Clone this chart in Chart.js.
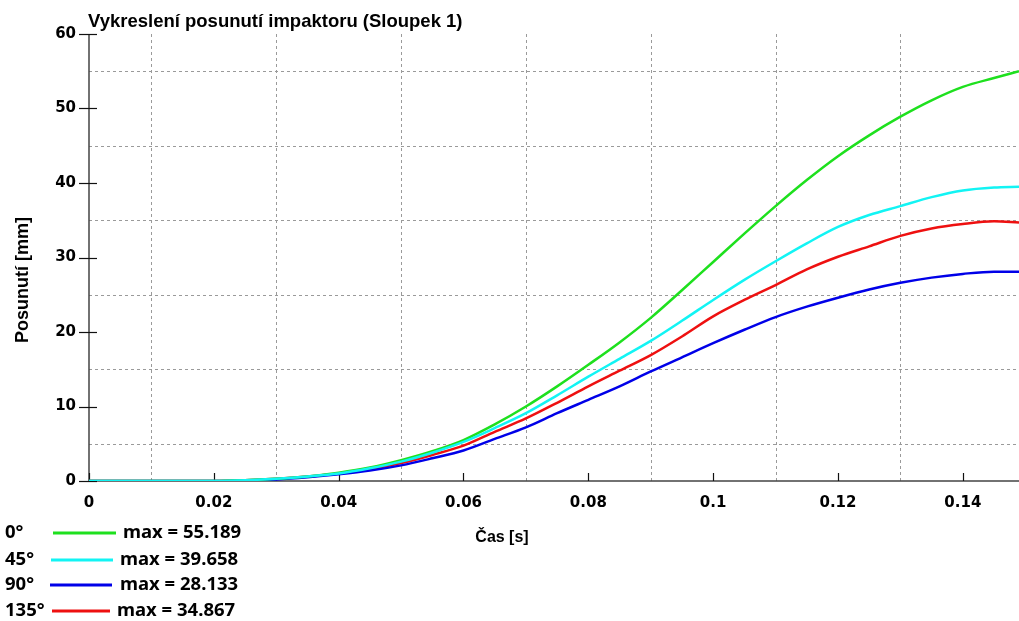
<!DOCTYPE html>
<html>
<head>
<meta charset="utf-8">
<script src="https://cdn.jsdelivr.net/npm/chart.js@4.4.1/dist/chart.umd.min.js"></script>
<style>
  html, body { margin: 0; padding: 0; background: #fff; }
  #wrap { width: 1019px; height: 621px; }
</style>
</head>
<body>
<div id="wrap"><canvas id="chart" width="1019" height="621"></canvas></div>
<script>
// time [s]
const times = [0, 0.005, 0.01, 0.015, 0.02, 0.025, 0.03, 0.035, 0.04, 0.045, 0.05, 0.055, 0.06, 0.065, 0.07,
  0.075, 0.08, 0.085, 0.09, 0.095, 0.1, 0.105, 0.11, 0.115, 0.12, 0.125, 0.13, 0.135, 0.14, 0.145, 0.149];

// displacement [mm]
const deg0 = [0, 0, 0, 0, 0, 0.1, 0.3, 0.6, 1.1, 1.8, 2.8, 4.0, 5.5, 7.6, 10.0,
  12.7, 15.6, 18.6, 21.9, 25.6, 29.4, 33.2, 36.9, 40.4, 43.6, 46.4, 48.9, 51.1, 52.9, 54.1, 55.0];
const deg45 = [0, 0, 0, 0, 0, 0.1, 0.3, 0.6, 1.0, 1.7, 2.6, 3.8, 5.25, 7.1, 9.1,
  11.5, 14.0, 16.4, 18.8, 21.5, 24.3, 27.0, 29.5, 31.9, 34.1, 35.7, 36.9, 38.1, 39.0, 39.4, 39.5];
const deg90 = [0, 0, 0, 0, 0, 0.05, 0.2, 0.5, 0.9, 1.4, 2.1, 3.05, 4.1, 5.65, 7.2,
  9.1, 10.9, 12.7, 14.7, 16.6, 18.5, 20.3, 22.0, 23.4, 24.6, 25.7, 26.6, 27.3, 27.8, 28.1, 28.1];
const deg135 = [0, 0, 0, 0, 0, 0.1, 0.3, 0.6, 1.0, 1.6, 2.4, 3.5, 4.75, 6.6, 8.4,
  10.5, 12.7, 14.8, 16.9, 19.4, 22.1, 24.3, 26.3, 28.4, 30.1, 31.5, 32.9, 33.9, 34.5, 34.85, 34.7];

const seriesNames = ['0°', '45°', '90°', '135°'];
const seriesMax = ['max = 55.189', 'max = 39.658', 'max = 28.133', 'max = 34.867'];
const seriesColors = ['#1ee01e', '#12f4f4', '#0000e8', '#ee1010'];

const xTicks = [0, 0.02, 0.04, 0.06, 0.08, 0.1, 0.12, 0.14];
const xGrid = [0.01, 0.03, 0.05, 0.07, 0.09, 0.11, 0.13];
const yGrid = [5, 15, 25, 35, 45, 55];

const chartTitle = 'Vykreslení posunutí impaktoru (Sloupek 1)';
const xTitle = 'Čas [s]';
const yTitle = 'Posunutí [mm]';

const toPoints = arr => arr.map((v, i) => ({x: times[i], y: v}));

const decor = {
  id: 'decor',
  beforeDatasetsDraw(chart) {
    const {ctx, chartArea: a, scales: {x, y}} = chart;
    ctx.save();
    // dashed grid between the ticks
    ctx.strokeStyle = '#9a9a9a';
    ctx.lineWidth = 1;
    ctx.setLineDash([3, 3]);
    xGrid.forEach(v => {
      const px = Math.round(x.getPixelForValue(v)) + 0.5;
      ctx.beginPath(); ctx.moveTo(px, a.top); ctx.lineTo(px, a.bottom); ctx.stroke();
    });
    yGrid.forEach(v => {
      const py = Math.round(y.getPixelForValue(v)) + 0.5;
      ctx.beginPath(); ctx.moveTo(a.left, py); ctx.lineTo(a.right, py); ctx.stroke();
    });
    ctx.setLineDash([]);
    // axes
    ctx.strokeStyle = '#444';
    ctx.lineWidth = 1.5;
    ctx.beginPath();
    ctx.moveTo(a.left, a.top); ctx.lineTo(a.left, a.bottom); ctx.lineTo(a.right, a.bottom);
    ctx.stroke();
    // tick marks
    ctx.strokeStyle = '#111';
    ctx.lineWidth = 1.2;
    y.ticks.forEach(t => {
      const py = Math.round(y.getPixelForValue(t.value)) + 0.5;
      ctx.beginPath(); ctx.moveTo(a.left - 10, py); ctx.lineTo(a.left + 8, py); ctx.stroke();
    });
    x.ticks.forEach(t => {
      const px = Math.round(x.getPixelForValue(t.value)) + 0.5;
      ctx.beginPath(); ctx.moveTo(px, a.bottom); ctx.lineTo(px, a.bottom - 8); ctx.stroke();
    });
    ctx.restore();
  },
  afterDraw(chart) {
    const {ctx} = chart;
    ctx.save();
    ctx.fillStyle = '#000';
    ctx.textBaseline = 'alphabetic';
    ctx.font = 'bold 18.5px "Liberation Sans", Arial, sans-serif';
    ctx.fillText(chartTitle, 88, 27);
    ctx.textAlign = 'center';
    ctx.textBaseline = 'middle';
    ctx.font = 'bold 16px "Liberation Sans", Arial, sans-serif';
    ctx.fillText(xTitle, 502, 538);
    // y axis title
    ctx.save();
    ctx.translate(23, 280);
    ctx.rotate(-Math.PI / 2);
    ctx.font = 'bold 18px "Liberation Sans", Arial, sans-serif';
    ctx.fillText(yTitle, 0, 0);
    ctx.restore();
    // legend
    const rows = [533, 560, 585, 611];
    const lineL = [53, 51, 50, 52];
    const lineR = [116, 113, 112, 110];
    const textX = [123, 120, 120, 117];
    ctx.textAlign = 'left';
    ctx.font = 'bold 18.5px "Noto Sans", sans-serif';
    seriesNames.forEach((n, i) => {
      ctx.fillStyle = '#000';
      ctx.fillText(n, 5, rows[i]);
      ctx.fillText(seriesMax[i], textX[i], rows[i]);
      ctx.strokeStyle = seriesColors[i];
      ctx.lineWidth = 3;
      ctx.beginPath(); ctx.moveTo(lineL[i], rows[i]); ctx.lineTo(lineR[i], rows[i]); ctx.stroke();
    });
    ctx.restore();
  }
};

const tickFont = {family: '"DejaVu Sans", sans-serif', size: 15, weight: 'bold'};

new Chart(document.getElementById('chart'), {
  type: 'line',
  data: {
    datasets: [deg0, deg45, deg90, deg135].map((d, i) => ({
      label: seriesNames[i],
      data: toPoints(d),
      borderColor: seriesColors[i],
      borderWidth: 2.5,
      pointRadius: 0,
      cubicInterpolationMode: 'monotone',
      order: [1, 0, 2, 3][i],
    })),
  },
  options: {
    responsive: false,
    animation: false,
    devicePixelRatio: 1,
    layout: {padding: {top: 34, right: 0, left: 0, bottom: 0}},
    plugins: {legend: {display: false}, tooltip: {enabled: false}, title: {display: false}},
    scales: {
      x: {
        type: 'linear',
        min: 0,
        max: 0.149,
        grid: {display: false, drawTicks: false},
        border: {display: false},
        afterBuildTicks: s => { s.ticks = xTicks.map(v => ({value: v})); },
        afterFit: s => { s.height = 140; },
        ticks: {
          font: tickFont,
          color: '#000',
          padding: 13,
          maxRotation: 0,
          callback: v => String(+v.toFixed(2)),
        },
      },
      y: {
        min: 0,
        max: 60,
        grid: {display: false, drawTicks: false},
        border: {display: false},
        afterFit: s => { s.width = 89; },
        ticks: {stepSize: 10, font: tickFont, color: '#000', padding: 13},
      },
    },
  },
  plugins: [decor],
});
</script>
</body>
</html>
